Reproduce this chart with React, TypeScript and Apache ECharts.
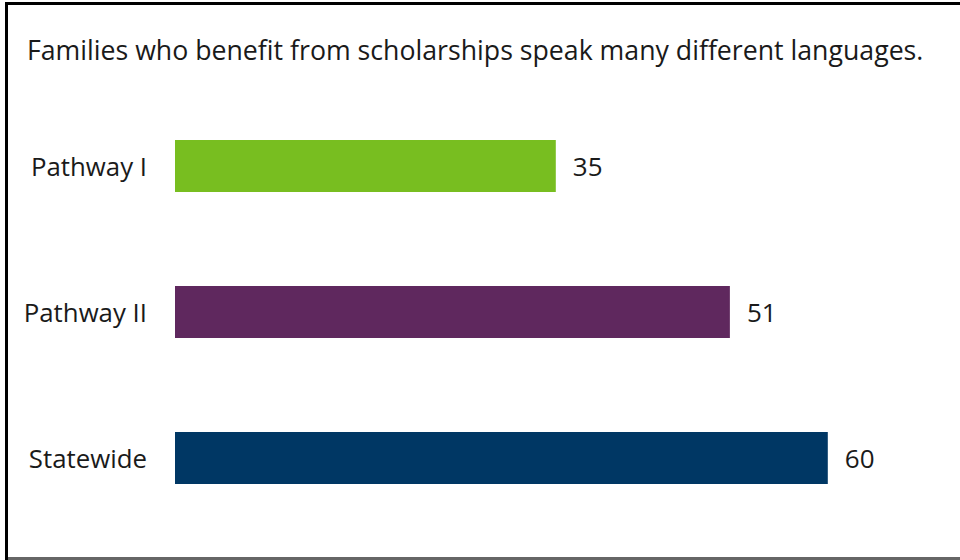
import React, { useEffect, useRef } from "react";
import * as echarts from "echarts";

const categories = ["Pathway I", "Pathway II", "Statewide"];
const values = [35, 51, 60];
const barColors = ["#78BE20", "#5F285E", "#003764"];
const titleText = "Families who benefit from scholarships speak many different languages.";

export default function App() {
  const ref = useRef<HTMLDivElement>(null);
  useEffect(() => {
    if (!ref.current) return;
    const chart = echarts.init(ref.current, null, { renderer: "svg" });
    const font = "'Open Sans', sans-serif";
    chart.setOption({
      animation: false,
      backgroundColor: "#ffffff",
      grid: { left: 175, right: 23.4, top: 93, bottom: 29, containLabel: false },
      xAxis: {
        type: "value",
        min: 0,
        max: 70,
        show: false,
        splitLine: { show: false },
      },
      yAxis: {
        type: "category",
        data: categories,
        inverse: true,
        axisLine: { show: false },
        axisTick: { show: false },
        axisLabel: {
          margin: 28,
          fontSize: 25.8,
          color: "#1a1a1a",
          fontFamily: font,
        },
      },
      series: [
        {
          type: "bar",
          barWidth: 52,
          data: values.map((v, i) => ({ value: v, itemStyle: { color: barColors[i] } })),
          label: {
            show: true,
            position: "right",
            distance: 17,
            fontSize: 26,
            color: "#1a1a1a",
            fontFamily: font,
          },
        },
      ],
      graphic: [
        {
          type: "text",
          left: 27,
          top: 36,
          style: {
            text: titleText,
            fontSize: 26.7,
            fill: "#1a1a1a",
            fontFamily: font,
          },
        },
        {
          type: "line",
          shape: { x1: 6.5, y1: 2, x2: 6.5, y2: 560 },
          style: { stroke: "#000000", lineWidth: 3 },
        },
        {
          type: "line",
          shape: { x1: 5, y1: 3.5, x2: 960, y2: 3.5 },
          style: { stroke: "#000000", lineWidth: 3 },
        },
        {
          type: "line",
          shape: { x1: 8, y1: 558.5, x2: 960, y2: 558.5 },
          style: { stroke: "#666666", lineWidth: 3 },
        },
      ],
    });
    return () => chart.dispose();
  }, []);
  return (
    <div
      ref={ref}
      style={{ position: "absolute", left: 0, top: 0, width: 960, height: 560 }}
    />
  );
}
